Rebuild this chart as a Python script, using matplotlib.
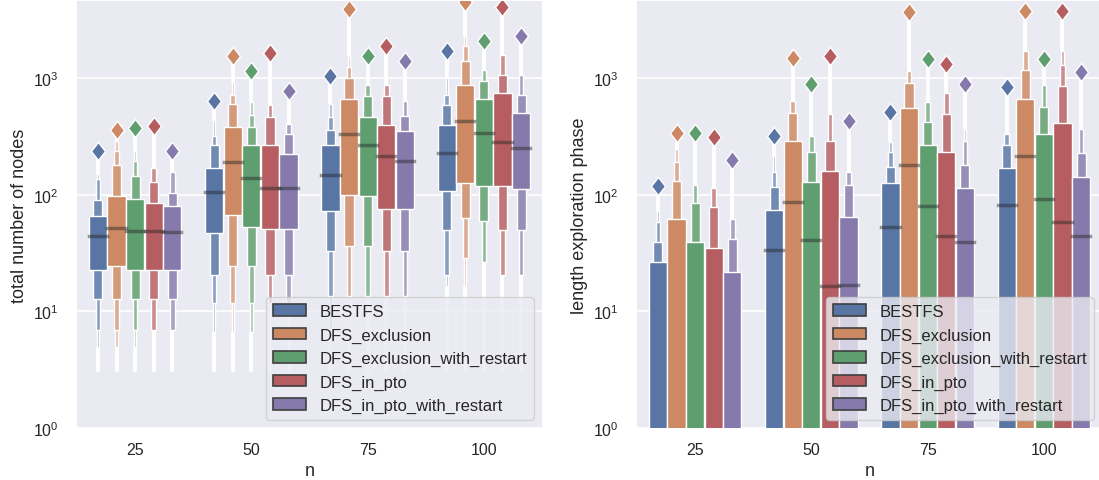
import colorsys
import numpy as np
import matplotlib
matplotlib.use("Agg")
import matplotlib.pyplot as plt
from matplotlib.patches import Rectangle, Patch
from matplotlib.path import Path

plt.rcParams['font.family'] = ['Liberation Sans', 'DejaVu Sans']

groups = ["25", "50", "75", "100"]
algorithms = ["BESTFS", "DFS_exclusion", "DFS_exclusion_with_restart",
              "DFS_in_pto", "DFS_in_pto_with_restart"]
palette = ["#4C72B0", "#DD8452", "#55A868", "#C44E52", "#8172B3"]

# ---- panel 1: total number of nodes (letter values, inner -> outer) ----
nodes_upper = {
    "BESTFS": [[66, 90, 136, 150], [168, 266, 320, 430], [266, 358, 460, 598], [395, 586, 718, 1000]],
    "DFS_exclusion": [[98, 180, 238, 290], [382, 598, 718, 916], [659, 1000, 1248, 1550], [869, 1403, 1890, 2275]],
    "DFS_exclusion_with_restart": [[91.7, 145, 195, 238], [266, 382, 484, 618], [460, 704, 869], [659, 946, 1170]],
    "DFS_in_pto": [[84, 129, 168], [266, 460, 586], [395, 704, 869], [738, 1065, 1570]],
    "DFS_in_pto_with_restart": [[79.4, 103, 155], [223, 331, 403], [349, 475, 638], [500, 713, 1065]],
}
nodes_lower = {
    "BESTFS": [[22.7, 12.7, 6.9, 4.9], [46.6, 20.5, 11.9, 6.6], [72, 32.7, 13.6, 7], [108, 49.7, 20.5, 16.5]],
    "DFS_exclusion": [[24.6, 12.7, 6.9, 4.9], [67, 24.6, 11.9, 6.6], [100, 36.5, 13.6, 7], [127, 63, 28.6, 16.5]],
    "DFS_exclusion_with_restart": [[22.7, 12.7, 6.9, 4.9], [52.5, 24.6, 11.9, 6.6], [96.7, 36.5, 13.6], [119, 59.7, 26.3]],
    "DFS_in_pto": [[22.7, 12.7, 6.9], [50.7, 20.5, 11.9], [75, 32.7, 13.6], [119, 49.7, 20.5]],
    "DFS_in_pto_with_restart": [[22.7, 12.7, 6.9], [50.7, 20.5, 11.9], [75, 32.7, 13.6], [112, 49.7, 20.5]],
}
nodes_median = {
    "BESTFS": [44, 105, 148, 227],
    "DFS_exclusion": [51.7, 189, 331, 430],
    "DFS_exclusion_with_restart": [48.5, 139, 266, 335],
    "DFS_in_pto": [48.5, 113, 215, 281],
    "DFS_in_pto_with_restart": [47.5, 113, 195, 249],
}
nodes_flier_max = {
    "BESTFS": [238, 638, 1030, 1690],
    "DFS_exclusion": [357, 1550, 3890, 4500],
    "DFS_exclusion_with_restart": [370, 1150, 1550, 2085],
    "DFS_in_pto": [385, 1630, 1890, 4030],
    "DFS_in_pto_with_restart": [238, 777, 1403, 2275],
}
nodes_flier_min = 3

# ---- panel 2: length exploration phase (lower letter values are 0) ----
expl_upper = {
    "BESTFS": [[26.6, 39.5, 58.6, 72.8], [74.3, 117, 155, 215], [125, 173, 230, 281], [169, 268, 331]],
    "DFS_exclusion": [[61.8, 131, 191, 246], [290, 500, 638], [552, 899, 1140], [659, 1170, 1710]],
    "DFS_exclusion_with_restart": [[39.5, 84, 121], [129, 230, 320], [268, 417, 618], [331, 567, 869]],
    "DFS_in_pto": [[35, 78.8, 114], [158, 290, 490], [230, 490, 738], [408, 847, 1297, 1710]],
    "DFS_in_pto_with_restart": [[21.6, 41.6, 61.8], [63.9, 121, 157], [114, 180, 290, 365], [141, 227, 365]],
}
expl_lower_value = 0
expl_median = {
    "BESTFS": [0, 33.7, 53, 81.5],
    "DFS_exclusion": [0, 87, 180, 215],
    "DFS_exclusion_with_restart": [0, 40.8, 79.4, 91.7],
    "DFS_in_pto": [0, 16.4, 44.4, 58.6],
    "DFS_in_pto_with_restart": [0, 16.8, 39.5, 44.4],
}
expl_flier_max = {
    "BESTFS": [119, 320, 513, 830],
    "DFS_exclusion": [335, 1470, 3650, 3770],
    "DFS_exclusion_with_restart": [335, 887, 1452, 1452],
    "DFS_in_pto": [310, 1550, 1315, 3770],
    "DFS_in_pto_with_restart": [198, 430, 887, 1117],
}

Y_MIN, Y_MAX = 1, 4570
BG = "#EAEAF2"
TXT = "#262626"
DIAMOND = Path([(0, 1), (0.78, 0), (0, -1), (-0.78, 0), (0, 1)],
               [Path.MOVETO, Path.LINETO, Path.LINETO, Path.LINETO, Path.CLOSEPOLY])


def desaturate(c, prop=0.75):
    r, g, b = matplotlib.colors.to_rgb(c)
    h, l, s = colorsys.rgb_to_hls(r, g, b)
    return colorsys.hls_to_rgb(h, l, s * prop)


def lighten(c, f):
    c = np.array(c)
    return tuple(c + (1 - c) * f)


def style_axes(ax, ylabel):
    ax.set_facecolor(BG)
    for s in ax.spines.values():
        s.set_visible(False)
    ax.set_yscale('log')
    ax.set_ylim(Y_MIN, Y_MAX)
    ax.set_xlim(-0.5, len(groups) - 0.5)
    ax.set_xticks(range(len(groups)))
    ax.set_xticklabels(groups)
    ax.yaxis.grid(True, which='major', color='white', lw=1.2, zorder=0)
    ax.xaxis.grid(False)
    ax.set_axisbelow(True)
    ax.tick_params(axis='both', which='both', length=0, labelsize=11.5,
                   labelcolor=TXT)
    ax.tick_params(axis='x', pad=10)
    ax.tick_params(axis='y', pad=13)
    ax.yaxis.set_minor_formatter(matplotlib.ticker.NullFormatter())
    ax.set_xlabel("n", fontsize=13, color=TXT, labelpad=4)
    ax.set_ylabel(ylabel, fontsize=13, color=TXT, labelpad=4)


def draw_panel(ax, upper, lower, median, fmax, fmin, ylabel):
    n_h = len(algorithms)
    width = 0.8
    each = width / n_h
    offsets = np.linspace(0, width - each, n_h)
    offsets -= offsets.mean()
    nested = each * 0.98
    for hi, alg in enumerate(algorithms):
        base = desaturate(palette[hi])
        for gi in range(len(groups)):
            x = gi + offsets[hi]
            ups = upper[alg][gi]
            if isinstance(lower, dict):
                los = lower[alg][gi]
            else:
                los = [lower] * len(ups)
            nlev = len(ups)
            # outlier columns
            ax.plot([x, x], [ups[-1], fmax[alg][gi]], color='white', lw=2.8,
                    zorder=1.5, solid_capstyle='butt')
            if fmin is not None:
                ax.plot([x, x], [fmin, los[-1]], color='white', lw=2.8,
                        zorder=1.5, solid_capstyle='butt')
            for lev in range(nlev - 1, -1, -1):
                w = nested * 0.5 ** lev
                col = lighten(base, 0.15 * lev)
                lo = max(los[lev], Y_MIN * 0.5)
                ax.add_patch(Rectangle((x - w / 2, lo), w, ups[lev] - lo,
                                       facecolor=col, edgecolor='white',
                                       lw=1.0, zorder=2))
            m = median[alg][gi]
            if m > 0:
                ax.plot([x - nested / 2, x + nested / 2], [m, m], color='.15',
                        alpha=.45, lw=2.5, zorder=3)
            ax.plot([x], [fmax[alg][gi]], marker=DIAMOND, ms=13, color=base,
                    mec='white', mew=1.0, zorder=4)
    style_axes(ax, ylabel)
    handles = [Patch(facecolor=desaturate(c), edgecolor='#3f3f3f', lw=1.2)
               for c in palette]
    leg = ax.legend(handles, algorithms, loc='lower right', fontsize=12,
                    facecolor=BG, edgecolor='0.8', framealpha=0.8,
                    labelcolor=TXT)
    leg.set_zorder(10)


fig = plt.figure(figsize=(10.99, 4.81), dpi=100)
ax1 = fig.add_axes([77 / 1099, 52 / 481, 465 / 1099, 427 / 481])
ax2 = fig.add_axes([637 / 1099, 52 / 481, 465 / 1099, 427 / 481])

draw_panel(ax1, nodes_upper, nodes_lower, nodes_median, nodes_flier_max,
           nodes_flier_min, "total number of nodes")
draw_panel(ax2, expl_upper, expl_lower_value, expl_median, expl_flier_max,
           None, "length exploration phase")

fig.savefig("out.png", dpi=100)
